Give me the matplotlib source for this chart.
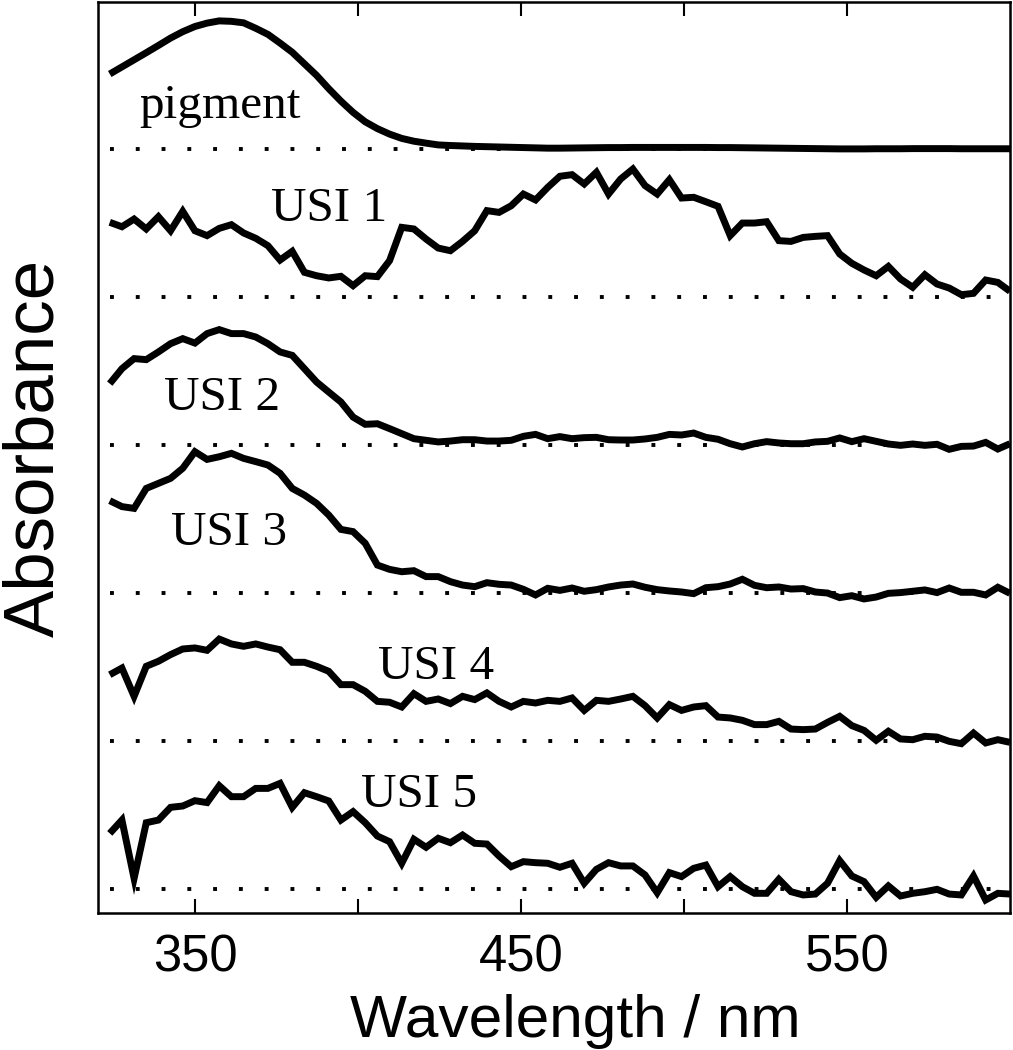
import numpy as np
import matplotlib
matplotlib.use("Agg")
import matplotlib.pyplot as plt
from matplotlib.ticker import FixedLocator, FixedFormatter

# ---- data -------------------------------------------------------------
wavelength = np.linspace(323.7, 600.0, 75)

pigment = [0.509, 0.557, 0.605, 0.653, 0.702, 0.752, 0.795, 0.830, 0.853, 0.868,
           0.865, 0.855, 0.818, 0.777, 0.718, 0.656, 0.578, 0.500, 0.410, 0.326,
           0.250, 0.186, 0.140, 0.103, 0.074, 0.055, 0.042, 0.030, 0.026, 0.023,
           0.020, 0.018, 0.016, 0.014, 0.012, 0.010, 0.008, 0.008, 0.009, 0.010,
           0.011, 0.012, 0.012, 0.013, 0.013, 0.013, 0.013, 0.013, 0.013, 0.013,
           0.012, 0.012, 0.011, 0.010, 0.009, 0.008, 0.007, 0.006, 0.005, 0.004,
           0.003, 0.003, 0.003, 0.004, 0.004, 0.004, 0.005, 0.005, 0.005, 0.005,
           0.004, 0.004, 0.004, 0.004, 0.004]

usi1 = [0.507, 0.477, 0.529, 0.462, 0.545, 0.450, 0.581, 0.450, 0.417, 0.466,
        0.491, 0.435, 0.399, 0.349, 0.252, 0.311, 0.169, 0.146, 0.131, 0.142,
        0.079, 0.146, 0.140, 0.248, 0.473, 0.462, 0.394, 0.333, 0.315, 0.378,
        0.450, 0.586, 0.574, 0.619, 0.698, 0.658, 0.743, 0.818, 0.829, 0.766,
        0.845, 0.698, 0.800, 0.867, 0.755, 0.698, 0.795, 0.671, 0.676, 0.646,
        0.615, 0.417, 0.502, 0.502, 0.511, 0.383, 0.378, 0.405, 0.412, 0.417,
        0.293, 0.230, 0.185, 0.146, 0.209, 0.124, 0.068, 0.153, 0.090, 0.063,
        0.018, 0.027, 0.117, 0.101, 0.041]

usi2 = [0.417, 0.518, 0.586, 0.579, 0.631, 0.687, 0.721, 0.691, 0.755, 0.782,
        0.755, 0.755, 0.732, 0.687, 0.631, 0.608, 0.518, 0.428, 0.360, 0.293,
        0.191, 0.142, 0.146, 0.113, 0.079, 0.045, 0.034, 0.023, 0.029, 0.038,
        0.038, 0.029, 0.029, 0.034, 0.061, 0.074, 0.045, 0.059, 0.045, 0.052,
        0.054, 0.038, 0.036, 0.036, 0.043, 0.054, 0.074, 0.070, 0.083, 0.054,
        0.041, 0.011, -0.011, 0.011, 0.025, 0.016, 0.011, 0.011, 0.023, 0.027,
        0.050, 0.025, 0.045, 0.027, 0.009, 0.000, 0.009, 0.000, 0.007, -0.027,
        -0.007, -0.005, 0.020, -0.025, 0.011]

usi3 = [0.626, 0.586, 0.574, 0.709, 0.743, 0.777, 0.845, 0.957, 0.905, 0.923,
        0.946, 0.912, 0.890, 0.867, 0.811, 0.709, 0.664, 0.608, 0.529, 0.432,
        0.417, 0.338, 0.191, 0.162, 0.146, 0.153, 0.113, 0.113, 0.079, 0.056,
        0.045, 0.072, 0.061, 0.056, 0.027, -0.011, 0.034, 0.020, 0.036, 0.014,
        0.025, 0.043, 0.056, 0.063, 0.041, 0.025, 0.016, 0.009, -0.002, 0.038,
        0.045, 0.063, 0.095, 0.054, 0.038, 0.043, 0.029, 0.032, 0.009, 0.002,
        -0.029, -0.016, -0.038, -0.025, 0.000, 0.005, 0.014, 0.023, 0.005, 0.036,
        0.007, 0.007, -0.011, 0.041, 0.000]

usi4 = [0.450, 0.495, 0.304, 0.507, 0.541, 0.586, 0.624, 0.631, 0.615, 0.691,
        0.658, 0.642, 0.658, 0.637, 0.619, 0.534, 0.534, 0.507, 0.473, 0.383,
        0.383, 0.338, 0.270, 0.264, 0.232, 0.322, 0.270, 0.286, 0.255, 0.304,
        0.282, 0.327, 0.270, 0.232, 0.270, 0.259, 0.277, 0.270, 0.293, 0.209,
        0.277, 0.270, 0.286, 0.304, 0.241, 0.158, 0.248, 0.209, 0.232, 0.241,
        0.164, 0.158, 0.142, 0.113, 0.113, 0.135, 0.083, 0.079, 0.083, 0.128,
        0.169, 0.106, 0.074, 0.007, 0.068, 0.016, 0.011, 0.034, 0.029, 0.000,
        -0.016, 0.056, -0.011, 0.011, -0.007]

usi5 = [0.378, 0.468, 0.074, 0.450, 0.468, 0.554, 0.563, 0.599, 0.586, 0.700,
        0.626, 0.626, 0.682, 0.682, 0.716, 0.554, 0.653, 0.626, 0.597, 0.468,
        0.525, 0.450, 0.360, 0.322, 0.176, 0.338, 0.284, 0.345, 0.315, 0.367,
        0.311, 0.306, 0.225, 0.153, 0.187, 0.180, 0.176, 0.149, 0.176, 0.041,
        0.135, 0.180, 0.158, 0.158, 0.097, -0.023, 0.113, 0.086, 0.142, 0.164,
        0.018, 0.086, 0.018, -0.027, -0.027, 0.068, -0.016, -0.038, -0.032, 0.041,
        0.194, 0.090, 0.052, -0.054, 0.023, -0.045, -0.027, -0.016, 0.000, -0.032,
        -0.038, 0.090, -0.072, -0.027, -0.032]

series_names = ["pigment", "USI 1", "USI 2", "USI 3", "USI 4", "USI 5"]
series_offsets = [5, 4, 3, 2, 1, 0]
label_x = [357.4, 391.1, 358.1, 360.4, 423.8, 418.7]
label_y = [0.211, 0.518, 0.236, 0.326, 0.422, 0.554]

x_ticks = [350, 400, 450, 500, 550]
x_tick_labels = ["350", "", "450", "", "550"]

# ---- figure -----------------------------------------------------------
W, H = 1013, 1050
fig = plt.figure(figsize=(W / 100, H / 100), dpi=100)
ax_left, ax_right = 97.7, 1010.0
ax_top, ax_bottom = 1.5, 913.3
ax = fig.add_axes([ax_left / W, 1 - ax_bottom / H,
                   (ax_right - ax_left) / W, (ax_bottom - ax_top) / H])

all_series = [pigment, usi1, usi2, usi3, usi4, usi5]
for vals, off in zip(all_series, series_offsets):
    ax.plot([wavelength[0], wavelength[-1]], [off, off], color="black",
            lw=2.8, linestyle=(0, (1, 5.63)), dash_capstyle="butt", zorder=2)
for vals, off in zip(all_series, series_offsets):
    ax.plot(wavelength, np.asarray(vals) + off, color="black", lw=5.0,
            solid_joinstyle="miter", solid_capstyle="butt", zorder=3)

for name, lx, ly, off in zip(series_names, label_x, label_y, series_offsets):
    ax.text(lx, ly + off, name, family="Liberation Serif", fontsize=35.5,
            ha="center", va="baseline", zorder=4)

ax.set_xlim(320, 600)
ax.set_ylim(-0.162, 5.999)
ax.xaxis.set_major_locator(FixedLocator(x_ticks))
ax.xaxis.set_major_formatter(FixedFormatter(x_tick_labels))
ax.set_yticks([])
ax.tick_params(axis="x", direction="in", top=True, length=10, width=1.5,
               pad=14.4, labelsize=36.5)
for lab in ax.get_xticklabels():
    lab.set_family("Liberation Sans")
for s in ax.spines.values():
    s.set_linewidth(1.8)

fig.text(575.5 / W, 1 - 1037 / H, "Wavelength / nm", family="Liberation Sans",
         fontsize=43.5, ha="center", va="baseline")
fig.text(53 / W, 1 - 447.5 / H, "Absorbance", family="Liberation Sans",
         fontsize=51, rotation=90, rotation_mode="anchor",
         ha="center", va="baseline")

fig.savefig("out.png", dpi=100)
